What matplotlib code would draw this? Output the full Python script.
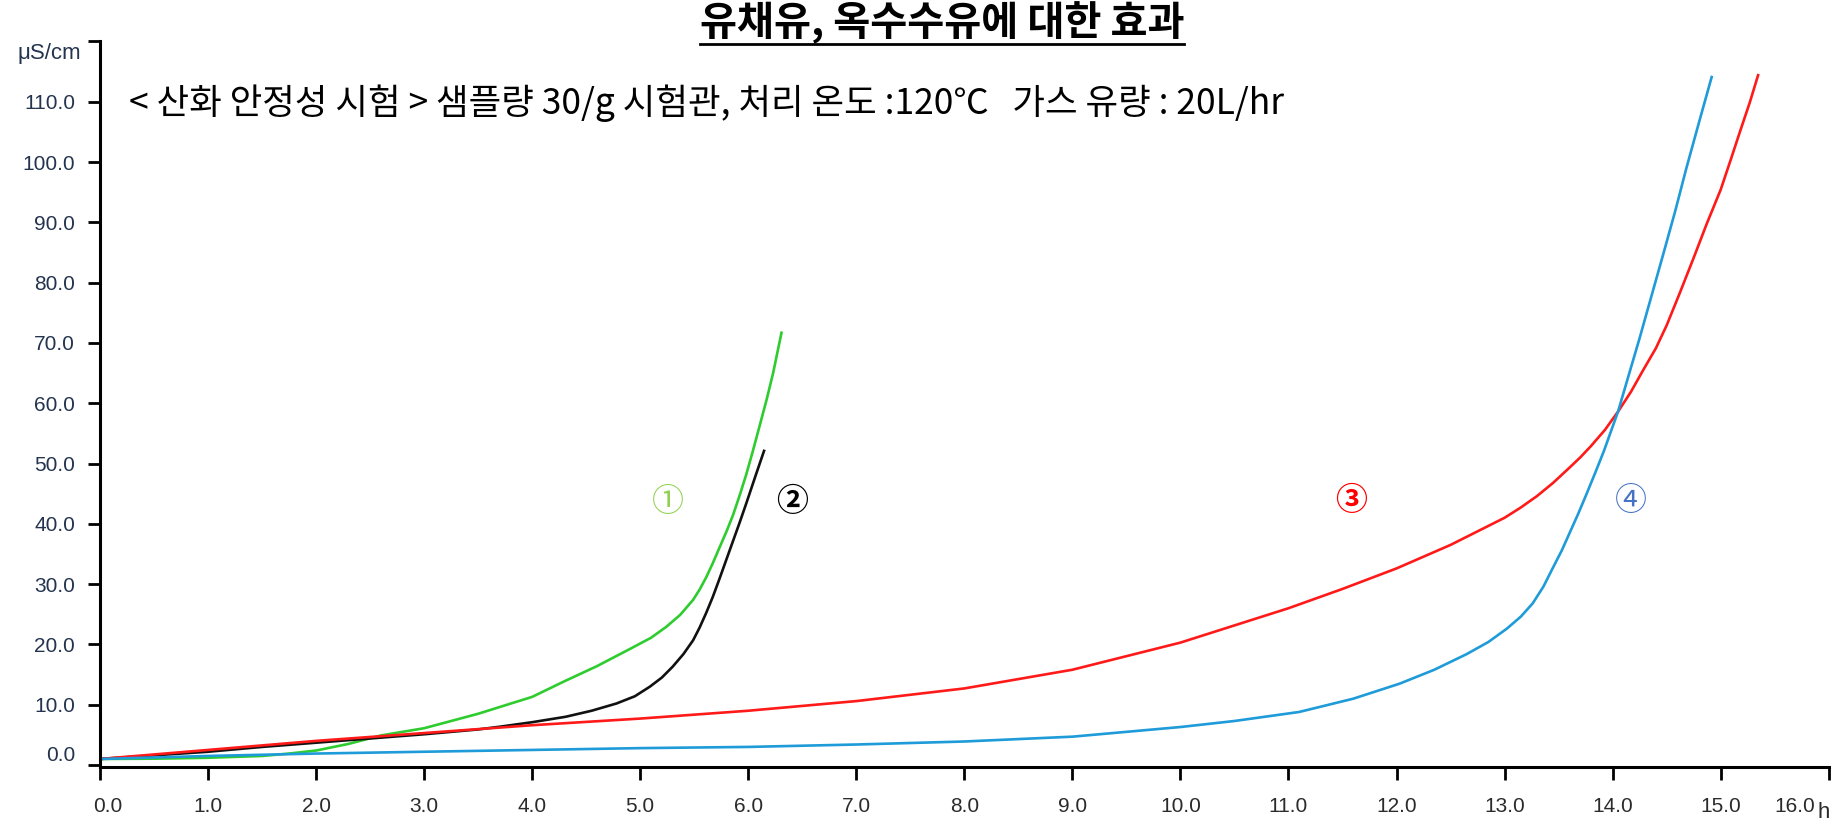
import matplotlib
matplotlib.use("Agg")
import matplotlib.pyplot as plt
from matplotlib.lines import Line2D
from matplotlib.transforms import ScaledTranslation

KR = ['Noto Sans CJK KR', 'DejaVu Sans']
TICK_FONT = ['Liberation Sans', 'DejaVu Sans']

# Data
title = "유채유, 옥수수유에 대한 효과"
subtitle = "< 산화 안정성 시험 > 샘플량 30/g 시험관, 처리 온도 :120℃   가스 유량 : 20L/hr"
y_unit = "μS/cm"
x_unit = "h"

green_x = [0, 0.5, 1.0, 1.5, 1.75, 2.0, 2.3, 2.6, 3.0, 3.5, 4.0, 4.3, 4.6, 4.9, 5.1,
           5.24, 5.37, 5.49, 5.55, 5.61, 5.67, 5.73, 5.8, 5.86, 5.92, 5.98, 6.04, 6.1,
           6.17, 6.23, 6.31]
green_y = [1.0, 1.05, 1.2, 1.5, 1.9, 2.4, 3.5, 4.9, 6.1, 8.5, 11.3, 13.9, 16.4, 19.2, 21.1,
           22.9, 24.9, 27.4, 29.1, 31.1, 33.4, 35.9, 38.8, 41.5, 44.7, 48.1, 51.9, 55.9,
           60.6, 65.0, 71.9]

black_x = [0, 0.5, 1.0, 1.5, 2.0, 2.5, 3.0, 3.5, 3.7, 4.0, 4.31, 4.55, 4.78, 4.95, 5.09,
           5.2, 5.3, 5.4, 5.49, 5.55, 5.61, 5.67, 5.73, 5.8, 5.86, 5.92, 5.98, 6.07, 6.15]
black_y = [1.0, 1.6, 2.2, 3.0, 3.7, 4.4, 5.1, 5.9, 6.35, 7.1, 8.0, 9.0, 10.2, 11.4, 13.0,
           14.5, 16.3, 18.4, 20.7, 22.8, 25.2, 27.8, 30.7, 34.2, 37.2, 40.2, 43.3, 48.1, 52.3]

red_x = [0, 1, 2, 3, 4, 5, 6, 7, 8, 9, 10, 11, 11.5, 12, 12.5, 13, 13.15, 13.3, 13.45,
         13.6, 13.7, 13.8, 13.93, 14.05, 14.17, 14.28, 14.4, 14.5, 14.62, 14.75, 14.87,
         15.0, 15.09, 15.18, 15.27, 15.35]
red_y = [1.0, 2.5, 4.0, 5.3, 6.6, 7.7, 9.0, 10.6, 12.7, 15.8, 20.3, 26.0, 29.2, 32.6, 36.5,
         41.0, 42.7, 44.6, 46.8, 49.3, 51.0, 52.9, 55.6, 58.6, 61.9, 65.4, 69.1, 72.9,
         78.2, 84.1, 89.7, 95.4, 100.2, 105.1, 109.9, 114.6]

blue_x = [0, 1, 2, 3, 4, 5, 6, 7, 8, 9, 10, 10.5, 11.1, 11.6, 12.03, 12.35, 12.65, 12.85,
          13.02, 13.15, 13.26, 13.36, 13.45, 13.53, 13.6, 13.68, 13.76, 13.84, 13.92,
          14.05, 14.15, 14.25, 14.36, 14.47, 14.58, 14.68, 14.8, 14.92]
blue_y = [1.0, 1.5, 1.9, 2.2, 2.5, 2.8, 3.0, 3.4, 3.9, 4.7, 6.3, 7.3, 8.8, 11.0, 13.5, 15.8,
          18.4, 20.4, 22.6, 24.6, 26.8, 29.6, 32.8, 35.6, 38.4, 41.6, 45.0, 48.5, 52.1,
          58.6, 64.7, 70.8, 77.8, 84.8, 91.9, 98.8, 106.6, 114.3]

curve_labels = ["①", "②", "③", "④"]
label_x = [5.26, 6.41, 11.58, 14.17]
label_y = [43.6, 43.6, 43.8, 43.8]

x_ticks = list(range(0, 17))
x_tick_labels = [f"{v:.1f}" for v in x_ticks]
y_ticks = list(range(0, 130, 10))
y_tick_labels = [f"{v:.1f}" for v in y_ticks[:-1]] + [""]

# Figure
fig = plt.figure(figsize=(18.39, 8.22), dpi=100)
ax = fig.add_axes([100 / 1839, 55.3 / 822, 1728.7 / 1839, 725.3 / 822])

ax.plot(green_x, green_y, color='#2ecc2e', lw=1.9, solid_capstyle='butt')
ax.plot(black_x, black_y, color='#111111', lw=1.9, solid_capstyle='butt')
ax.plot(red_x, red_y, color='#ff1a1a', lw=1.9, solid_capstyle='butt')
ax.plot(blue_x, blue_y, color='#1e9bd8', lw=1.9, solid_capstyle='butt')

label_colors = ['#8fd14f', '#000000', '#ff0000', '#4472c4']
label_weights = ['normal', 'bold', 'bold', 'normal']
for lbl, lx, ly, c, w in zip(curve_labels, label_x, label_y, label_colors, label_weights):
    ax.text(lx, ly, lbl, color=c, fontsize=23, fontweight=w, family=KR,
            ha='center', va='center')

ax.set_xlim(0, 16)
ax.set_ylim(-0.28, 120)
for s in ['top', 'right']:
    ax.spines[s].set_visible(False)
for s in ['left', 'bottom']:
    ax.spines[s].set_linewidth(2.2)

ax.set_xticks(x_ticks)
ax.set_xticklabels(x_tick_labels, family=TICK_FONT, fontsize=15, color='#2b2b2b')
ax.set_yticks(y_ticks)
ax.set_yticklabels(y_tick_labels, family=TICK_FONT, fontsize=15, color='#24344f')
ax.tick_params(axis='x', length=9, width=2, pad=13)
ax.tick_params(axis='y', length=9, width=2, pad=9)

# nudge the corner labels like the original
dpi = fig.dpi_scale_trans
xl = ax.get_xticklabels()
xl[0].set_transform(xl[0].get_transform() + ScaledTranslation(8 / 100, 0, dpi))
xl[-1].set_transform(xl[-1].get_transform() + ScaledTranslation(-34 / 100, 0, dpi))
yl = ax.get_yticklabels()
yl[0].set_transform(yl[0].get_transform() + ScaledTranslation(0, 12 / 100, dpi))

fig.text(49 / 1839, 1 - 53 / 822, y_unit, family=TICK_FONT, fontsize=16,
         color='#24344f', ha='center', va='center')
fig.text(1824 / 1839, 1 - 812 / 822, x_unit, family=TICK_FONT, fontsize=16,
         color='#2b2b2b', ha='center', va='center')

t = fig.text(942 / 1839, 1 - 23 / 822, title, family=KR, fontsize=29, fontweight='bold',
             ha='center', va='center')
fig.text(129 / 1839, 1 - 103 / 822, subtitle, family=KR, fontsize=25.5,
         ha='left', va='center')

# underline the title
fig.canvas.draw()
bb = t.get_window_extent()
uy = (822 - 44) / 822
fig.add_artist(Line2D([bb.x0 / 1839, bb.x1 / 1839], [uy, uy], transform=fig.transFigure,
                      color='black', lw=2))

fig.savefig("out.png", dpi=100)
